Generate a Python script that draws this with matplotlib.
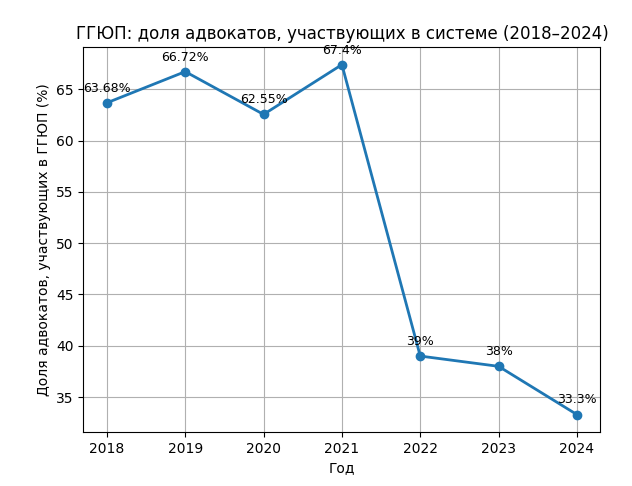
import matplotlib
matplotlib.use("Agg")
import matplotlib.pyplot as plt

years = [2018, 2019, 2020, 2021, 2022, 2023, 2024]
values = [63.68, 66.72, 62.55, 67.4, 39, 38, 33.3]
labels = ["63.68%", "66.72%", "62.55%", "67.4%", "39%", "38%", "33.3%"]

fig, ax = plt.subplots(figsize=(6.32, 4.86), dpi=100)
ax.plot(years, values, marker="o", linewidth=2, color="#1f77b4")
for x, y, t in zip(years, values, labels):
    ax.annotate(t, (x, y), textcoords="offset points", xytext=(0, 8), ha="center", fontsize=9)
ax.set_title("ГГЮП: доля адвокатов, участвующих в системе (2018–2024)")
ax.set_xlabel("Год")
ax.set_ylabel("Доля адвокатов, участвующих в ГГЮП (%)")
ax.set_xticks(years)
ax.grid(True)
fig.subplots_adjust(left=0.132, right=0.95, top=0.903, bottom=0.111)
fig.savefig("out.png")
